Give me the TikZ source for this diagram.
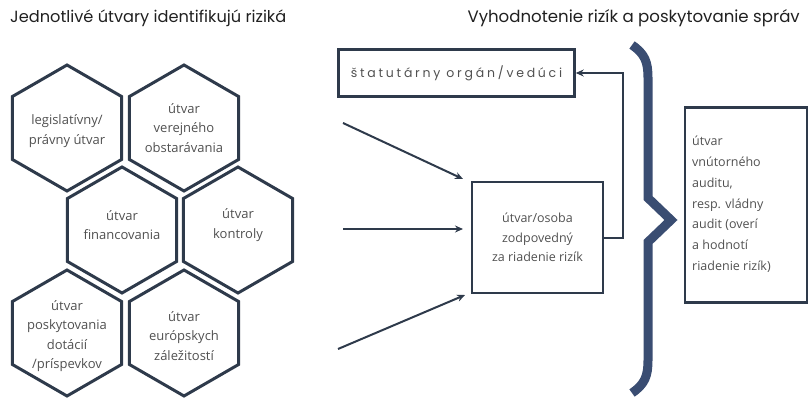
\documentclass[tikz,border=0pt]{standalone}
\usepackage{fontspec}
\setmainfont{Open Sans}
\newfontfamily\titlefont{Poppins}
\newfontfamily\spacedfont[LetterSpace=22]{Poppins}
\usetikzlibrary{arrows.meta}
\definecolor{lineC}{HTML}{2E3A4B}
\definecolor{braceC}{HTML}{3A4D72}
\definecolor{textC}{HTML}{505050}
\definecolor{titleC}{HTML}{202020}
\tikzset{
  hexline/.style={draw=lineC, line width=3pt, line join=miter},
  hextext/.style={align=center, text=textC, font=\fontsize{13}{19.5}\selectfont, inner sep=0pt},
  boxline/.style={draw=lineC, line width=2.5pt},
  arr/.style={draw=lineC, line width=2pt, -{Stealth[length=8pt,width=7pt]}},
  titletext/.style={font=\titlefont\fontsize{16.2}{20}\selectfont, text=titleC, inner sep=0pt},
}
\newcommand{\hexagonat}[1]{%
  \draw[hexline, shift={#1}] (90:63) -- (30:63) -- (-30:63) -- (-90:63) -- (-150:63) -- (150:63) -- cycle;}
\begin{document}
\begin{tikzpicture}[x=1pt,y=-1pt]
\useasboundingbox (0,0) rectangle (808,398);
% titles
\node[titletext, anchor=west] (t1) at (10,18) {Jednotlivé útvary identifikujú riziká};
\node[titletext, anchor=east, font=\titlefont\fontsize{16.6}{20}\selectfont] (t2) at (800,18) {Vyhodnotenie rizík a poskytovanie správ};
% hexagons
\hexagonat{(67,128)}
\hexagonat{(184,128)}
\hexagonat{(122,230)}
\hexagonat{(238,230)}
\hexagonat{(67,333)}
\hexagonat{(184,333)}
\node[hextext] (h1) at (67,131) {legislatívny/\\právny útvar};
\node[hextext] (h2) at (184,128) {útvar\\verejného\\obstarávania};
\node[hextext] (h3) at (122,225) {útvar\\financovania};
\node[hextext] (h4) at (238,225) {útvar\\kontroly};
\node[hextext] (h5) at (67,336) {útvar\\poskytovania\\dotácií\\/príspevkov};
\node[hextext] (h6) at (184,336) {útvar\\európskych\\záležitostí};
% boxes
\node[boxline, minimum width=236pt, minimum height=47pt, inner sep=0pt,
      font=\spacedfont\fontsize{12.5}{14}\selectfont, text=textC] (stat) at (456.5,73) {štatutárny orgán/vedúci};
\node[boxline, minimum width=131pt, minimum height=111pt, inner sep=0pt, align=center,
      font=\fontsize{12.5}{19.5}\selectfont, text=textC] (riad) at (537.5,237.5) {útvar/osoba\\zodpovedný\\za riadenie rizík};
\node[boxline, minimum width=122pt, minimum height=195pt, inner sep=0pt] (aud) at (746,205) {};
\node[anchor=north west, align=left, inner sep=0pt, text=textC,
      font=\fontsize{12.5}{20.8}\selectfont] (audt) at (692,136) {útvar\\vnútorného\\auditu,\\resp. vládny\\audit (overí\\a hodnotí\\riadenie rizík)};
% arrows from departments
\coordinate (a1) at (343,123);
\coordinate (a2) at (343,229);
\coordinate (a3) at (338,349);
\coordinate (k) at (623,73);
\draw[arr] (a1) -- (463,179);
\draw[arr] (a2) -- (463,229);
\draw[arr] (a3) -- (465,295);
\draw[arr] (riad.east) -| (k) -- (stat.east);
% brace
\draw[draw=braceC, line width=9pt, line join=miter]
  (632,45) .. controls (645,54) and (648,62) .. (648,78) -- (648,198) -- (671,220) -- (648,242) -- (648,360)
  .. controls (648,376) and (645,384) .. (632,393);
\end{tikzpicture}
\end{document}
